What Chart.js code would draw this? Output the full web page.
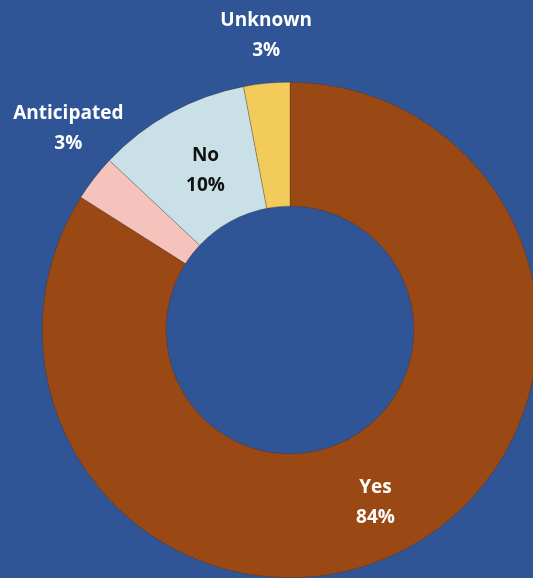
<!DOCTYPE html>
<html>
<head>
<meta charset="utf-8">
<script src="https://cdn.jsdelivr.net/npm/chart.js@4"></script>
<style>
  html, body { margin: 0; padding: 0; width: 533px; height: 578px; overflow: hidden; background: #2f5597; }
  #wrap { position: absolute; left: 0; top: 0; width: 580px; height: 660px; }
</style>
</head>
<body>
<div id="wrap"><canvas id="myChart" width="580" height="660"></canvas></div>
<script>
const labels = ['Yes', 'Anticipated', 'No', 'Unknown'];
const values = [84, 3, 10, 3];
const colors = ['#9a4914', '#f5c3bb', '#c9e0e7', '#f3cb5a'];
const textColors = ['#ffffff', '#ffffff', '#111111', '#ffffff'];
// labels drawn outside the ring
const outside = [false, true, false, true];

const labelPlugin = {
    id: 'sliceLabels',
    afterDatasetsDraw(chart) {
        const ctx = chart.ctx;
        const meta = chart.getDatasetMeta(0);
        // small nudges so labels sit where the original put them
        const nudge = [[-4, 10], [12, -20], [5, 3], [4, 0]];
        ctx.save();
        ctx.font = 'bold 19px "Open Sans", sans-serif';
        ctx.textAlign = 'center';
        ctx.textBaseline = 'middle';
        meta.data.forEach((arc, i) => {
            const p = arc.getProps(['x', 'y', 'startAngle', 'endAngle', 'innerRadius', 'outerRadius']);
            const mid = (p.startAngle + p.endAngle) / 2;
            const r = outside[i] ? p.outerRadius + 48 : (p.innerRadius + p.outerRadius) / 2;
            const x = p.x + Math.cos(mid) * r + nudge[i][0];
            const y = p.y + Math.sin(mid) * r + nudge[i][1];
            ctx.fillStyle = textColors[i];
            ctx.fillText(labels[i], x, y - 15);
            ctx.fillText(values[i] + '%', x, y + 15);
        });
        ctx.restore();
    }
};

const ctx = document.getElementById('myChart').getContext('2d');
let chart = new Chart(ctx, {
    type: 'doughnut',
    data: {
        labels: labels,
        datasets: [{
            data: values,
            backgroundColor: colors,
            borderColor: 'rgba(60,30,10,0.5)',
            borderWidth: 0.5
        }]
    },
    options: {
        responsive: false,
        animation: false,
        cutout: '50%',
        layout: { padding: { left: 42, right: 42, top: 82, bottom: 82 } },
        plugins: {
            legend: { display: false },
            tooltip: { enabled: false }
        }
    },
    plugins: [labelPlugin]
});
</script>
</body>
</html>
